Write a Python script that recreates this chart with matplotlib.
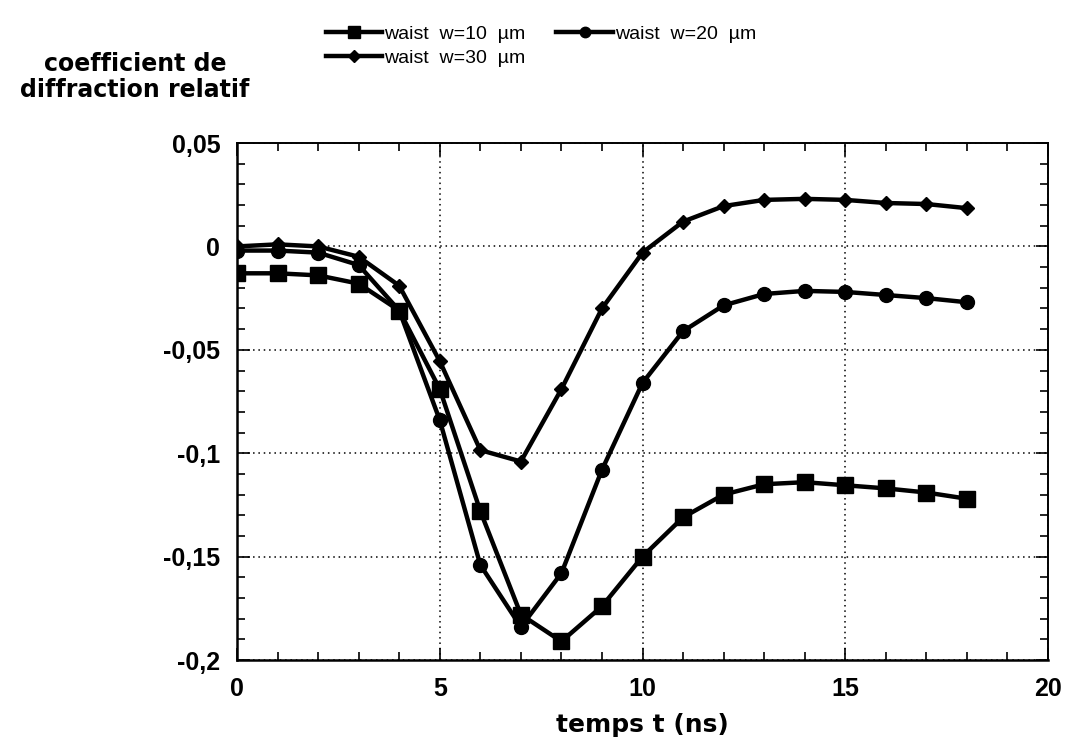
import numpy as np
import matplotlib
matplotlib.use("Agg")
import matplotlib.pyplot as plt
from matplotlib.ticker import MultipleLocator, FuncFormatter

# ── Data ────────────────────────────────────────────────────────────────────
t_ns = list(range(0, 19))

w10 = [-0.013, -0.013, -0.014, -0.018, -0.031, -0.069, -0.128, -0.178, -0.191,
       -0.174, -0.150, -0.131, -0.120, -0.115, -0.114, -0.1155, -0.117, -0.119,
       -0.122]
w20 = [-0.002, -0.002, -0.003, -0.009, -0.031, -0.084, -0.154, -0.184, -0.158,
       -0.108, -0.066, -0.041, -0.0285, -0.023, -0.0215, -0.022, -0.0235,
       -0.025, -0.027]
w30 = [0.000, 0.001, 0.000, -0.005, -0.019, -0.0555, -0.0985, -0.104, -0.069,
       -0.030, -0.003, 0.012, 0.0195, 0.0225, 0.023, 0.0225, 0.021, 0.0205,
       0.0185]

labels = ["waist  w=10  µm", "waist  w=20  µm", "waist  w=30  µm"]

plt.rcParams.update({
    "font.family": ["Liberation Sans", "DejaVu Sans"],
    "axes.unicode_minus": False,
})

fig = plt.figure(figsize=(10.74, 7.48), dpi=100)
ax = fig.add_axes([0.2207, 0.1176, 0.7551, 0.6912])

style = dict(color="black", lw=3.2)
l10, = ax.plot(t_ns, w10, marker="s", ms=11, **style)
l20, = ax.plot(t_ns, w20, marker="o", ms=10, **style)
l30, = ax.plot(t_ns, w30, marker="D", ms=7.5, **style)

ax.set_xlim(0, 20)
ax.set_ylim(-0.2, 0.05)
ax.xaxis.set_major_locator(MultipleLocator(5))
ax.xaxis.set_minor_locator(MultipleLocator(1))
ax.yaxis.set_major_locator(MultipleLocator(0.05))
ax.yaxis.set_minor_locator(MultipleLocator(0.01))
ax.yaxis.set_major_formatter(FuncFormatter(
    lambda v, p: "0" if abs(v) < 1e-9 else f"{v:g}".replace(".", ",")))

ax.grid(True, which="major", color="black", linestyle=(0, (1, 2.5)), lw=1.1)
ax.tick_params(which="both", direction="in", top=True, right=True,
               width=1.2, labelsize=18)
ax.tick_params(which="major", length=9, pad=12)
ax.tick_params(which="minor", length=6)
for lab in ax.get_xticklabels() + ax.get_yticklabels():
    lab.set_fontweight("bold")
for side in ["left", "bottom"]:
    ax.spines[side].set_linewidth(1.8)
for side in ["top", "right"]:
    ax.spines[side].set_linewidth(1.4)

ax.set_xlabel("temps t (ns)", fontsize=18, fontweight="bold", labelpad=9,
              family=["DejaVu Sans"])

fig.text(0.1257, 0.897, "coefficient de\ndiffraction relatif", ha="center",
         va="center", fontsize=17, fontweight="bold", linespacing=1.15,
         family=["DejaVu Sans"])

fig.legend([l10, l30, l20], [labels[0], labels[2], labels[1]], ncol=2,
           loc="upper left", bbox_to_anchor=(0.287, 0.99), frameon=False,
           fontsize=14, handlelength=2.9, handletextpad=0.1,
           columnspacing=1.6, labelspacing=0.35, markerscale=0.75)

fig.savefig("out.png", dpi=100, facecolor="white")
